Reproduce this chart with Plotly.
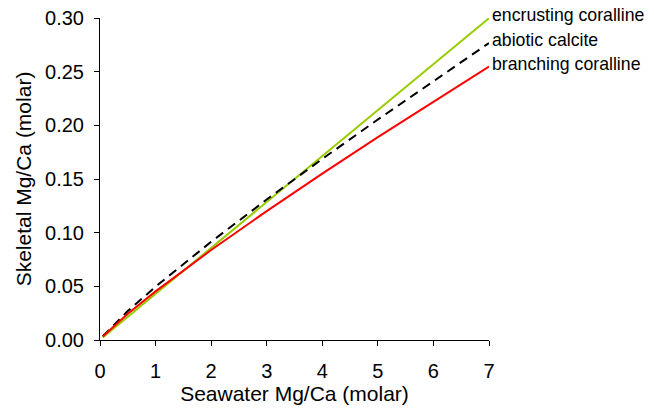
import plotly.graph_objects as go

seawater = [0.05, 0.5, 1, 2, 3, 4, 5, 6, 7]
encrusting = [0.0023, 0.0216, 0.0430, 0.0858, 0.1286, 0.1714, 0.2142, 0.2570, 0.2998]
abiotic = [0.0035, 0.0270, 0.0497, 0.0915, 0.1309, 0.1687, 0.2054, 0.2412, 0.2767]
branching = [0.0032, 0.0245, 0.0453, 0.0838, 0.1201, 0.1550, 0.1890, 0.2222, 0.2547]

series = [
    ("encrusting coralline", encrusting, "#99CC00", "solid"),
    ("abiotic calcite", abiotic, "#000000", "9px,6px"),
    ("branching coralline", branching, "#FF0000", "solid"),
]

FONT = "Liberation Sans, Arial, sans-serif"
fig = go.Figure()
for name, ys, color, dash in series:
    fig.add_trace(go.Scatter(x=seawater, y=ys, mode="lines", name=name,
                             line=dict(color=color, width=2, dash=dash)))
    fig.add_annotation(x=seawater[-1], y=ys[-1], xref="x", yref="y", text=name,
                       showarrow=False, xanchor="left", yanchor="middle",
                       xshift=1, yshift=3, font=dict(family=FONT, size=17.7, color="#000"))

fig.update_layout(
    width=654, height=408,
    margin=dict(l=100, r=165, t=18, b=68, autoexpand=False),
    paper_bgcolor="white", plot_bgcolor="white",
    showlegend=False,
    font=dict(family=FONT, color="#000"),
)
fig.update_xaxes(range=[0, 7], dtick=1, tick0=0, showgrid=False, zeroline=False,
                 showline=True, linecolor="#000", linewidth=1, automargin=False,
                 ticks="outside", ticklen=5, tickcolor="#000", ticklabelstandoff=8,
                 ticklabeloverflow="allow",
                 tickfont=dict(size=20, family=FONT),
                 title=dict(text="Seawater Mg/Ca (molar)", font=dict(size=21, family=FONT), standoff=4))
fig.update_yaxes(range=[0, 0.30], dtick=0.05, tick0=0, tickformat=".2f", showgrid=False, zeroline=False,
                 showline=True, linecolor="#000", linewidth=1, automargin=False,
                 ticks="outside", ticklen=5, tickcolor="#000", ticklabelstandoff=6,
                 ticklabeloverflow="allow",
                 tickfont=dict(size=20, family=FONT),
                 title=dict(text="Skeletal Mg/Ca (molar)", font=dict(size=21, family=FONT), standoff=7))

fig.write_html("out.html", config={"displayModeBar": False},
               post_script="document.body.style.margin='0';")
